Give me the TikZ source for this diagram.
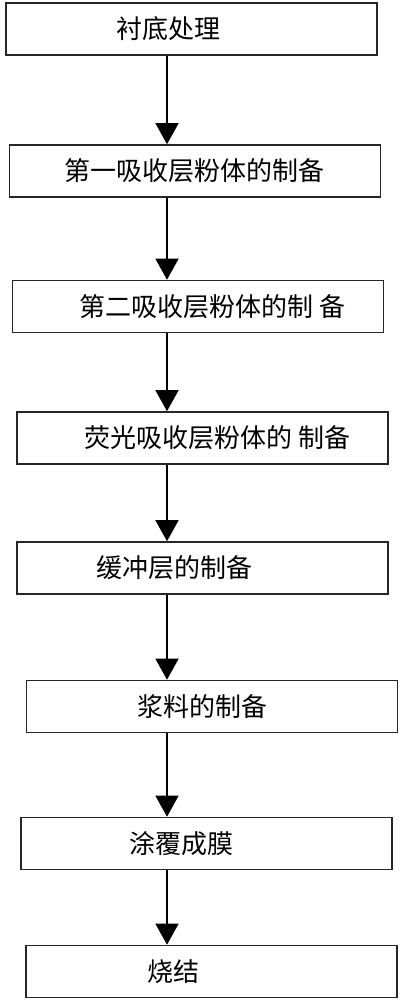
\documentclass[tikz,border=0pt]{standalone}
\usepackage{fontspec}
\newfontfamily\cjk{Noto Sans CJK SC}
\usetikzlibrary{arrows.meta}

\tikzset{
  stepbox/.style={draw=black!85, line width=1.6pt, minimum width=371pt, minimum height=52pt, inner sep=0pt},
  steptext/.style={anchor=west, inner sep=0pt, font=\cjk\fontsize{26pt}{30pt}\selectfont},
  arr/.style={line width=1.5pt, -{Triangle[width=23pt,length=21pt]}}
}

\begin{document}
\begin{tikzpicture}[x=1pt, y=-1pt]
	\useasboundingbox (0,0) rectangle (402,1000);
	\coordinate (spine) at (167,0);
	\node[stepbox] (b1) at (191.5,29) {};
	\node[stepbox] (b2) at (195,171) {};
	\node[stepbox] (b3) at (198,306.5) {};
	\node[stepbox] (b4) at (202.5,438) {};
	\node[stepbox] (b5) at (202.5,568) {};
	\node[stepbox] (b6) at (212,706.5) {};
	\node[stepbox] (b7) at (206.5,843.5) {};
	\node[stepbox] (b8) at (211.5,971.5) {};
	\node[steptext] (t1) at (116,29) {衬底处理};
	\node[steptext] (t2) at (64,171) {第一吸收层粉体的制备};
	\node[steptext] (t3) at (79,306.5) {第二吸收层粉体的制 备};
	\node[steptext] (t4) at (84,438) {荧光吸收层粉体的 制备};
	\node[steptext] (t5) at (96,568) {缓冲层的制备};
	\node[steptext] (t6) at (137,706.5) {浆料的制备};
	\node[steptext] (t7) at (129,843.5) {涂覆成膜};
	\node[steptext] (t8) at (147,971.5) {烧结};
	\foreach \a/\b in {b1/b2, b2/b3, b3/b4, b4/b5, b5/b6, b6/b7, b7/b8}
		\draw[arr] (\a.south -| spine) -- (\b.north -| spine);
\end{tikzpicture}
\end{document}
